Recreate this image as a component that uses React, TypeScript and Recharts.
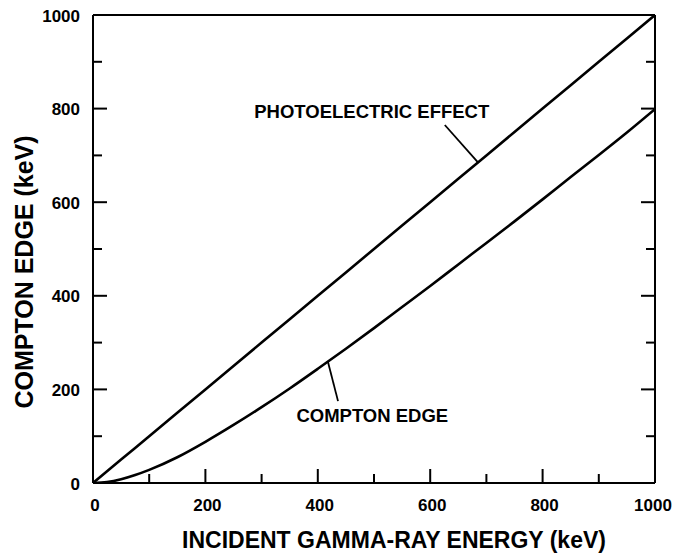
import React from 'react';
import { LineChart, Line, XAxis, YAxis, ReferenceLine, ReferenceDot } from 'recharts';

// Incident gamma-ray energy (keV)
const energy = [0, 25, 50, 75, 100, 150, 200, 250, 300, 350, 400, 450, 500, 550, 600, 650, 700, 750, 800, 850, 900, 950, 1000];
// Photoelectric effect line (keV)
const photoelectric = [0, 25, 50, 75, 100, 150, 200, 250, 300, 350, 400, 450, 500, 550, 600, 650, 700, 750, 800, 850, 900, 950, 1000];
// Compton edge curve (keV)
const comptonEdge = [0, 2, 8, 17, 28, 55, 88, 124, 162, 202, 244, 287, 331, 376, 421, 467, 513, 559, 606, 654, 701, 749, 799];

const tickValues = [0, 100, 200, 300, 400, 500, 600, 700, 800, 900, 1000];
const xTitle = 'INCIDENT GAMMA-RAY ENERGY (keV)';
const yTitle = 'COMPTON EDGE (keV)';
const photoLabel = 'PHOTOELECTRIC EFFECT';
const comptonLabel = 'COMPTON EDGE';

const data = energy.map((e, i) => ({ energy: e, photo: photoelectric[i], compton: comptonEdge[i] }));

const FONT = '"Liberation Sans", Arial, Helvetica, sans-serif';
const MAJOR = 14;
const MINOR = 9;

const isMajor = (v: number) => v % 200 === 0;

const BottomTick = (props: any) => {
  const { x, y, payload } = props;
  const major = isMajor(payload.value);
  const dx = payload.value === 1000 ? -2 : 2;
  return (
    <g>
      <line x1={x} x2={x} y1={y} y2={y - (major ? MAJOR : MINOR)} stroke="#000" strokeWidth={2} />
      {major && (
        <text x={x + dx} y={y + 22} textAnchor="middle" dominantBaseline="central" fontFamily={FONT} fontWeight="bold" fontSize={17} fill="#000">
          {payload.value}
        </text>
      )}
    </g>
  );
};

const TopTick = (props: any) => {
  const { x, y, payload } = props;
  const major = isMajor(payload.value);
  return <line x1={x} x2={x} y1={y} y2={y + (major ? MAJOR : MINOR)} stroke="#000" strokeWidth={2} />;
};

const LeftTick = (props: any) => {
  const { x, y, payload } = props;
  const major = isMajor(payload.value);
  return (
    <g>
      <line x1={x} x2={x + (major ? MAJOR : MINOR)} y1={y} y2={y} stroke="#000" strokeWidth={2} />
      {major && (
        <text x={x - 13} y={y + 1} textAnchor="end" dominantBaseline="central" fontFamily={FONT} fontWeight="bold" fontSize={17} fill="#000">
          {payload.value}
        </text>
      )}
    </g>
  );
};

const RightTick = (props: any) => {
  const { x, y, payload } = props;
  const major = isMajor(payload.value);
  return <line x1={x} x2={x - (major ? MAJOR : MINOR)} y1={y} y2={y} stroke="#000" strokeWidth={2} />;
};

const XTitle = () => (
  <text x={394} y={540} textAnchor="middle" dominantBaseline="central" fontFamily={FONT} fontWeight="bold" fontSize={23} fill="#000">
    {xTitle}
  </text>
);

const YTitle = () => (
  <text x={24} y={272} transform="rotate(-90 24 272)" textAnchor="middle" dominantBaseline="central" fontFamily={FONT} fontWeight="bold" fontSize={25} fill="#000">
    {yTitle}
  </text>
);

const AnnotationText = (text: string) => (props: any) => {
  const vb = props.viewBox || {};
  const cx = (vb.x ?? 0) + (vb.width ?? 0) / 2;
  const cy = (vb.y ?? 0) + (vb.height ?? 0) / 2;
  return (
    <text x={cx} y={cy} textAnchor="middle" dominantBaseline="central" fontFamily={FONT} fontWeight="bold" fontSize={18.5} fill="#000">
      {text}
    </text>
  );
};

export default function App() {
  return (
    <div style={{ position: 'fixed', left: 0, top: 0, width: 676, height: 556, background: '#fff' }}>
      <LineChart width={676} height={556} data={data} margin={{ top: 0, right: 0, bottom: 0, left: 0 }}>
        <XAxis
          dataKey="energy"
          type="number"
          domain={[0, 1000]}
          ticks={tickValues}
          interval={0}
          height={73}
          tickSize={0}
          tickMargin={0}
          tickLine={false}
          axisLine={{ stroke: '#000', strokeWidth: 2 }}
          tick={<BottomTick />}
          allowDataOverflow
          label={{ content: () => <XTitle /> }}
        />
        <XAxis
          xAxisId="top"
          orientation="top"
          type="number"
          domain={[0, 1000]}
          ticks={tickValues}
          interval={0}
          height={15}
          tickSize={0}
          tickMargin={0}
          tickLine={false}
          axisLine={{ stroke: '#000', strokeWidth: 2 }}
          tick={<TopTick />}
          allowDataOverflow
        />
        <YAxis
          type="number"
          domain={[0, 1000]}
          ticks={tickValues}
          interval={0}
          width={93}
          tickSize={0}
          tickMargin={0}
          tickLine={false}
          axisLine={{ stroke: '#000', strokeWidth: 2 }}
          tick={<LeftTick />}
          allowDataOverflow
          label={{ content: () => <YTitle /> }}
        />
        <YAxis
          yAxisId="right"
          orientation="right"
          type="number"
          domain={[0, 1000]}
          ticks={tickValues}
          interval={0}
          width={21}
          tickSize={0}
          tickMargin={0}
          tickLine={false}
          axisLine={{ stroke: '#000', strokeWidth: 2 }}
          tick={<RightTick />}
          allowDataOverflow
        />
        <Line type="linear" dataKey="photo" stroke="#000" strokeWidth={2.6} dot={false} isAnimationActive={false} />
        <Line type="monotone" dataKey="compton" stroke="#000" strokeWidth={2.6} dot={false} isAnimationActive={false} />
        <ReferenceLine segment={[{ x: 626, y: 765 }, { x: 685, y: 685 }]} stroke="#000" strokeWidth={1.8} />
        <ReferenceLine segment={[{ x: 436, y: 175 }, { x: 418, y: 259 }]} stroke="#000" strokeWidth={1.8} />
        <ReferenceDot x={496} y={793} r={0} fill="none" stroke="none" label={{ content: AnnotationText(photoLabel) }} />
        <ReferenceDot x={497} y={145} r={0} fill="none" stroke="none" label={{ content: AnnotationText(comptonLabel) }} />
      </LineChart>
    </div>
  );
}
